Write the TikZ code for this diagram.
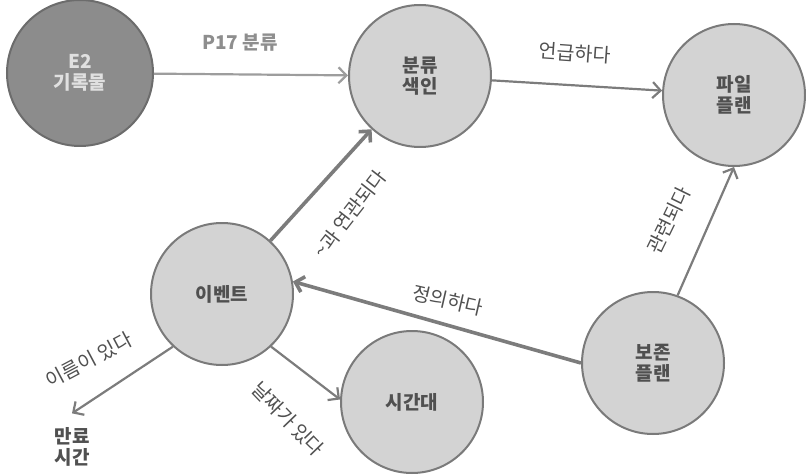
\documentclass[tikz,border=0pt]{standalone}
\usepackage{fontspec}
\setmainfont{Noto Sans CJK KR}
\usetikzlibrary{arrows.meta,positioning}
\definecolor{rim}{HTML}{7A7A7A}
\definecolor{disc}{HTML}{D3D3D3}
\definecolor{darkdisc}{HTML}{8C8C8C}
\definecolor{darkrim}{HTML}{6C6C6C}
\definecolor{ink}{HTML}{505050}
\definecolor{wire}{HTML}{7C7C7C}
\definecolor{paleink}{HTML}{8E8E8E}
\tikzstyle{entity}=[circle,draw=rim,line width=2pt,fill=disc,minimum size=142pt,inner sep=0pt,align=center,text=ink,font=\bfseries\fontsize{19}{21}\selectfont]
\tikzstyle{record}=[entity,fill=darkdisc,draw=darkrim,text=white!88!black,minimum size=146pt]
\tikzstyle{plain}=[align=center,text=ink,font=\bfseries\fontsize{19}{21}\selectfont,inner xsep=4pt,inner ysep=14pt]
\tikzstyle{rel}=[draw=wire,line width=2.2pt,-{Straight Barb[length=8pt,width=16pt]}]
\tikzstyle{rel2}=[rel,line width=3.6pt]
\tikzstyle{lbl}=[text=ink,font=\fontsize{19.5}{22}\selectfont,inner sep=1pt]
\begin{document}
\begin{tikzpicture}[x=1pt,y=-1pt]
\useasboundingbox (0,0) rectangle (806,476);

\node[record] (e2) at (80,73) {E2\\기록물};
\node[entity] (cls) at (420,76) {분류\\색인};
\node[entity] (file) at (734,95) {파일\\플랜};
\node[entity] (event) at (222,294) {이벤트};
\node[entity] (period) at (412,402) {시간대};
\node[entity] (keep) at (653,363) {보존\\플랜};
\node[plain] (expiry) at (72,447) {만료\\시간};

\draw (e2) edge [rel,draw=wire!75] (cls);
\draw (cls) edge [rel] (file);
\draw (event) edge [rel2] (cls);
\draw (keep.180) edge [rel2] (event.10);
\draw (keep.70) edge [rel] (file.-90);
\draw (event.227) edge [rel] (expiry.north);
\draw (event.-47) edge [rel] (period.178);

\node[lbl,text=paleink,font=\bfseries\fontsize{19}{22}\selectfont] (l1) at (240,43) {P17 분류};
\node[lbl,rotate=-4] (l2) at (575,53) {언급하다};
\node[lbl,rotate=52] (l3) at (350,214) {\textasciitilde 과 연관되다};
\node[lbl,rotate=64] (l4) at (669,220) {관련되다};
\node[lbl,rotate=-13] (l5) at (448,300) {정의하다};
\node[lbl,rotate=28] (l6) at (89,360) {이름이 있다};
\node[lbl,rotate=-46] (l7) at (288,419) {날짜가 있다};
\end{tikzpicture}
\end{document}
